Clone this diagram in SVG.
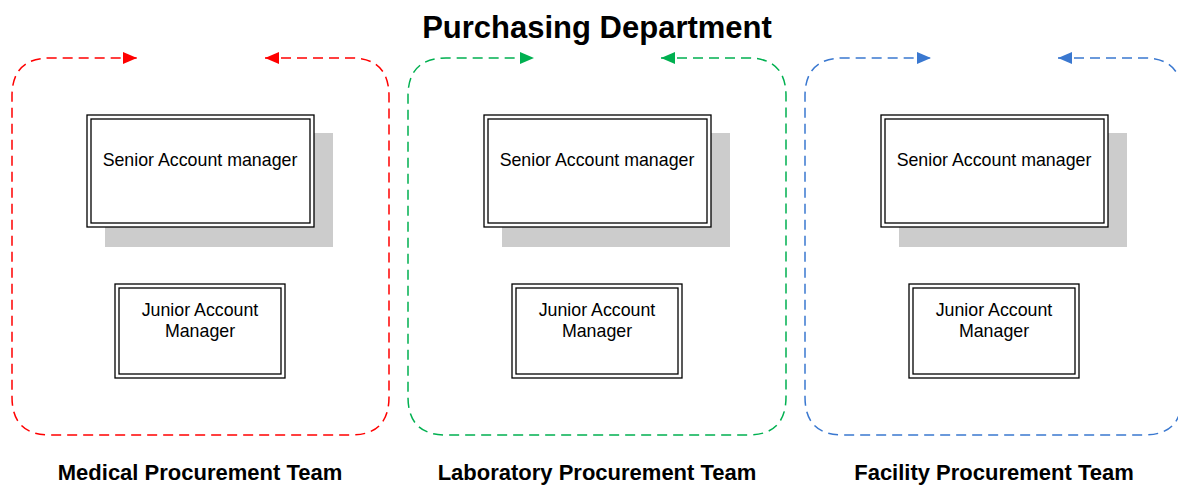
<svg xmlns="http://www.w3.org/2000/svg" width="1178" height="485" viewBox="0 0 1178 485">
<style>
text{font-family:"Liberation Sans",Arial,sans-serif;fill:#000}
.title{font-size:31px;font-weight:bold}
.team{font-size:22px;font-weight:bold}
.lbl{font-size:17.8px}
.dash{fill:none;stroke-width:1.5;stroke-dasharray:10 6}
.red{stroke:#ff0000}
.green{stroke:#00b050}
.blue{stroke:#3a78d0}
.box{fill:#fff;stroke:#000;stroke-width:1.3}
.shadow{fill:#cccccc}
</style>
<defs>
<marker id="ar" viewBox="0 0 14 12" refX="14" refY="6" markerWidth="14" markerHeight="12" markerUnits="userSpaceOnUse" orient="auto-start-reverse"><path d="M0,0L14,6L0,12z" fill="#ff0000"/></marker>
<marker id="ag" viewBox="0 0 14 12" refX="14" refY="6" markerWidth="14" markerHeight="12" markerUnits="userSpaceOnUse" orient="auto-start-reverse"><path d="M0,0L14,6L0,12z" fill="#00b050"/></marker>
<marker id="ab" viewBox="0 0 14 12" refX="14" refY="6" markerWidth="14" markerHeight="12" markerUnits="userSpaceOnUse" orient="auto-start-reverse"><path d="M0,0L14,6L0,12z" fill="#3a78d0"/></marker>
</defs>
<text class="title" x="597" y="38" text-anchor="middle">Purchasing Department</text>
<g id="connectors">
<path class="dash red" marker-start="url(#ar)" marker-end="url(#ar)" d="M265,58 H351 Q389,58 389,96 V397 Q389,435 351,435 H50 Q12,435 12,397 V96 Q12,58 50,58 H137"/>
<path class="dash green" marker-start="url(#ag)" marker-end="url(#ag)" d="M661,58 H748 Q786,58 786,96 V397 Q786,435 748,435 H446 Q408,435 408,397 V96 Q408,58 446,58 H534"/>
<path class="dash blue" marker-start="url(#ab)" marker-end="url(#ab)" d="M1058,58 H1144 Q1182,58 1182,96 V397 Q1182,435 1144,435 H843 Q805,435 805,397 V96 Q805,58 843,58 H931"/>
</g>
<g id="medical">
<g id="medical-senior">
<rect class="shadow" x="105" y="133" width="228" height="114"/>
<rect class="box" x="87" y="115" width="227" height="112"/>
<rect class="box" x="91" y="119" width="219" height="104"/>
<text class="lbl" x="200" y="166" text-anchor="middle">Senior Account manager</text>
</g>
<g id="medical-junior">
<rect class="box" x="115" y="284" width="170" height="94"/>
<rect class="box" x="119" y="288" width="162" height="86"/>
<text class="lbl" x="200" y="316" text-anchor="middle">Junior Account</text>
<text class="lbl" x="200" y="337" text-anchor="middle">Manager</text>
</g>
<text class="team" x="200" y="480" text-anchor="middle">Medical Procurement Team</text>
</g>
<g id="laboratory" transform="translate(397,0)">
<g id="laboratory-senior">
<rect class="shadow" x="105" y="133" width="228" height="114"/>
<rect class="box" x="87" y="115" width="227" height="112"/>
<rect class="box" x="91" y="119" width="219" height="104"/>
<text class="lbl" x="200" y="166" text-anchor="middle">Senior Account manager</text>
</g>
<g id="laboratory-junior">
<rect class="box" x="115" y="284" width="170" height="94"/>
<rect class="box" x="119" y="288" width="162" height="86"/>
<text class="lbl" x="200" y="316" text-anchor="middle">Junior Account</text>
<text class="lbl" x="200" y="337" text-anchor="middle">Manager</text>
</g>
<text class="team" x="200" y="480" text-anchor="middle">Laboratory Procurement Team</text>
</g>
<g id="facility" transform="translate(794,0)">
<g id="facility-senior">
<rect class="shadow" x="105" y="133" width="228" height="114"/>
<rect class="box" x="87" y="115" width="227" height="112"/>
<rect class="box" x="91" y="119" width="219" height="104"/>
<text class="lbl" x="200" y="166" text-anchor="middle">Senior Account manager</text>
</g>
<g id="facility-junior">
<rect class="box" x="115" y="284" width="170" height="94"/>
<rect class="box" x="119" y="288" width="162" height="86"/>
<text class="lbl" x="200" y="316" text-anchor="middle">Junior Account</text>
<text class="lbl" x="200" y="337" text-anchor="middle">Manager</text>
</g>
<text class="team" x="200" y="480" text-anchor="middle">Facility Procurement Team</text>
</g>
</svg>
